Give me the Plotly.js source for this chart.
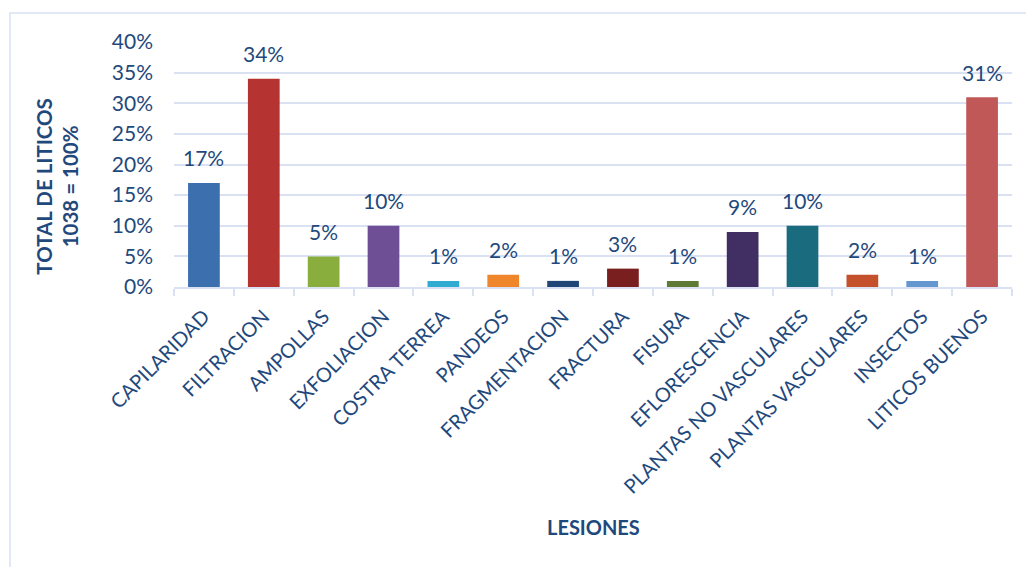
<!DOCTYPE html>
<html>
<head>
<meta charset="utf-8">
<script src="https://cdn.plot.ly/plotly-3.0.1.min.js"></script>
<style>html,body{margin:0;padding:0;background:#fff;}#chart{width:1026px;height:567px;}</style>
</head>
<body>
<div id="chart"></div>
<script>
const categories = ["CAPILARIDAD","FILTRACION","AMPOLLAS","EXFOLIACION","COSTRA TERREA","PANDEOS","FRAGMENTACION","FRACTURA","FISURA","EFLORESCENCIA","PLANTAS NO VASCULARES","PLANTAS VASCULARES","INSECTOS","LITICOS BUENOS"];
const values = [17,34,5,10,1,2,1,3,1,9,10,2,1,31];
const barColors = ["#3b6fae","#b53331","#8aae3d","#6e4f96","#31acd0","#ef862c","#1f4677","#7a1f1f","#5e7a35","#412e63","#1a6b7e","#c4512b","#6496cf","#c05858"];
const yTitle = "TOTAL DE LITICOS<br>1038 = 100%";
const xTitle = "LESIONES";

const textColor = "#1F497D";
const gridColor = "#d9e1f2";
const font = "Lato, 'Open Sans', sans-serif";

const trace = {
  type: "bar",
  x: categories,
  y: values,
  marker: {color: barColors},
  hoverinfo: "x+y"
};

const labelAnnotations = categories.map((c, i) => ({
  x: c, y: values[i], xref: "x", yref: "y",
  text: values[i] + "%", showarrow: false,
  yanchor: "middle", yshift: 25,
  font: {family: font, size: 21, color: textColor}
}));

const layout = {
  width: 1026, height: 567,
  margin: {l: 174, r: 14, t: 42, b: 280},
  paper_bgcolor: "#ffffff", plot_bgcolor: "#ffffff",
  showlegend: false,
  bargap: 0.47,
  font: {family: font, color: textColor},
  xaxis: {
    type: "category",
    tickangle: -45,
    tickfont: {family: font, size: 20, color: textColor},
    showgrid: false,
    showline: true, linecolor: gridColor, linewidth: 2,
    ticks: "outside", tickson: "boundaries", ticklen: 7, tickcolor: gridColor, tickwidth: 2,
    ticklabelstandoff: 8,
    automargin: false, fixedrange: true
  },
  yaxis: {
    range: [0, 40], dtick: 5, ticksuffix: "%",
    tickfont: {family: font, size: 21, color: textColor},
    showgrid: true, gridcolor: gridColor, gridwidth: 2,
    zeroline: false, showline: false, ticks: "",
    ticklabelstandoff: 20,
    automargin: false, fixedrange: true
  },
  annotations: labelAnnotations.concat([
    {text: yTitle, xref: "paper", yref: "paper", x: -0.1395, y: 0.41, xanchor: "center", yanchor: "middle",
     textangle: -90, showarrow: false, font: {family: font, size: 20.5, color: textColor, weight: "bold"}},
    {text: xTitle, xref: "paper", yref: "paper", x: 0.5, y: -0.978, xanchor: "center", yanchor: "middle",
     showarrow: false, font: {family: font, size: 20, color: textColor, weight: "bold"}}
  ]),
  shapes: [
    {type: "rect", xref: "paper", yref: "paper", x0: -0.1957, x1: 1.1, y0: -1.3, y1: 1.118,
     line: {color: gridColor, width: 1.5}, fillcolor: "rgba(0,0,0,0)", layer: "below"}
  ]
};

Plotly.newPlot("chart", [trace], layout, {displayModeBar: false, staticPlot: true});
</script>
</body>
</html>
